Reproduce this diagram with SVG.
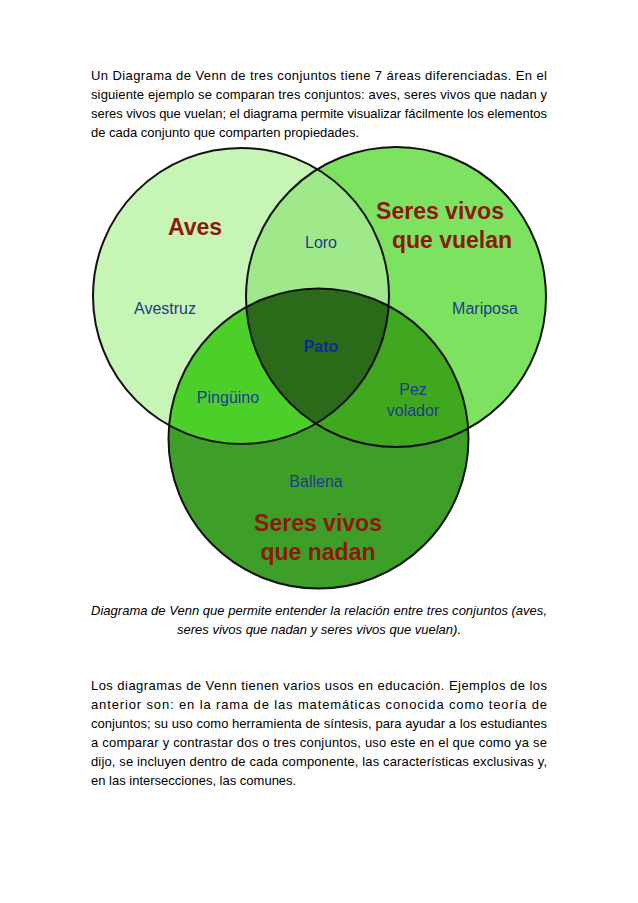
<svg xmlns="http://www.w3.org/2000/svg" width="638" height="903" viewBox="0 0 638 903">
<style>
.b{font-family:"Liberation Sans",Arial,sans-serif;font-size:13px;fill:#000}
.i{font-style:italic}
.t{font-family:"Liberation Sans",Arial,sans-serif;font-size:16px;fill:#1f3c8c;text-anchor:middle}
.h{font-family:"Liberation Sans",Arial,sans-serif;font-size:23px;font-weight:bold;fill:#8b1a0c;text-anchor:middle}
.c{stroke:#111;stroke-width:2;fill:none}
</style>
<defs>
<clipPath id="cl"><circle cx="241" cy="296" r="148"/></clipPath>
<clipPath id="cr"><circle cx="396" cy="297" r="150"/></clipPath>
</defs>
<rect width="638" height="903" fill="#fff"/>
<g id="text-top" class="b">
<text x="91" y="80" textLength="456" lengthAdjust="spacing">Un Diagrama de Venn de tres conjuntos tiene 7 áreas diferenciadas. En el</text>
<text x="91" y="99" textLength="456" lengthAdjust="spacing">siguiente ejemplo se comparan tres conjuntos: aves, seres vivos que nadan y</text>
<text x="91" y="118" textLength="456" lengthAdjust="spacing">seres vivos que vuelan; el diagrama permite visualizar fácilmente los elementos</text>
<text x="91" y="137">de cada conjunto que comparten propiedades.</text>
</g>
<g id="venn">
<circle cx="241" cy="296" r="148" fill="#c6f5b6"/>
<circle cx="396" cy="297" r="150" fill="#7ce25f"/>
<circle cx="318.5" cy="438.5" r="150" fill="#3e9f28"/>
<circle cx="396" cy="297" r="150" fill="#9fe98a" clip-path="url(#cl)"/>
<circle cx="318.5" cy="438.5" r="150" fill="#4dcf2a" clip-path="url(#cl)"/>
<circle cx="318.5" cy="438.5" r="150" fill="#40a81f" clip-path="url(#cr)"/>
<g clip-path="url(#cl)"><circle cx="318.5" cy="438.5" r="150" fill="#2a6a18" clip-path="url(#cr)"/></g>
<circle class="c" cx="241" cy="296" r="148"/>
<circle class="c" cx="396" cy="297" r="150"/>
<circle class="c" cx="318.5" cy="438.5" r="150"/>
</g>
<g id="labels">
<text class="h" x="195" y="235">Aves</text>
<text class="h" x="440" y="219">Seres vivos</text>
<text class="h" x="452" y="248">que vuelan</text>
<text class="h" x="318" y="531">Seres vivos</text>
<text class="h" x="318" y="560">que nadan</text>
<text class="t" x="321" y="248">Loro</text>
<text class="t" x="165" y="314">Avestruz</text>
<text class="t" x="485" y="314">Mariposa</text>
<text class="t" x="321" y="352" style="font-weight:bold;fill:#0c2a9a">Pato</text>
<text class="t" x="228" y="403">Pingüino</text>
<text class="t" x="413" y="395">Pez</text>
<text class="t" x="413" y="416">volador</text>
<text class="t" x="316" y="487">Ballena</text>
</g>
<g id="caption" class="b i">
<text x="91" y="615" textLength="456" lengthAdjust="spacing">Diagrama de Venn que permite entender la relación entre tres conjuntos (aves,</text>
<text x="319" y="634" text-anchor="middle">seres vivos que nadan y seres vivos que vuelan).</text>
</g>
<g id="text-bottom" class="b">
<text x="91" y="690" textLength="456" lengthAdjust="spacing">Los diagramas de Venn tienen varios usos en educación. Ejemplos de los</text>
<text x="91" y="709" textLength="456" lengthAdjust="spacing">anterior son: en la rama de las matemáticas conocida como teoría de</text>
<text x="91" y="728" textLength="456" lengthAdjust="spacing">conjuntos; su uso como herramienta de síntesis, para ayudar a los estudiantes</text>
<text x="91" y="747" textLength="456" lengthAdjust="spacing">a comparar y contrastar dos o tres conjuntos, uso este en el que como ya se</text>
<text x="91" y="766" textLength="456" lengthAdjust="spacing">dijo, se incluyen dentro de cada componente, las características exclusivas y,</text>
<text x="91" y="785">en las intersecciones, las comunes.</text>
</g>
</svg>
